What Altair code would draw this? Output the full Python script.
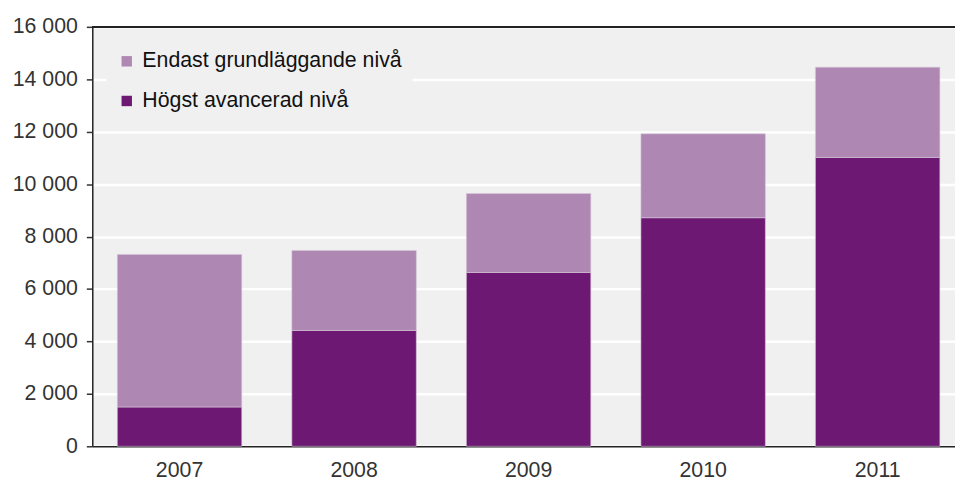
import altair as alt
import pandas as pd

years = ["2007", "2008", "2009", "2010", "2011"]
hogst = [1500, 4420, 6630, 8720, 11020]
totals = [7320, 7470, 9640, 11920, 14460]
endast = [t - h for t, h in zip(totals, hogst)]
series = ["Endast grundläggande nivå", "Högst avancerad nivå"]
colors = ["#ae87b3", "#6d1873"]
y_ticks = [0, 2000, 4000, 6000, 8000, 10000, 12000, 14000, 16000]

rows = []
for y, h, e in zip(years, hogst, endast):
    rows.append({"year": y, "series": series[1], "value": h, "ord": 0})
    rows.append({"year": y, "series": series[0], "value": e, "ord": 1})
df = pd.DataFrame(rows)

FONT = "Liberation Sans"
FS = 21.5

bars = alt.Chart(df).mark_bar(stroke="#d6c6d8", strokeWidth=0.6).encode(
    x=alt.X("year:N", title=None,
            scale=alt.Scale(range=[0, 880], paddingInner=0.287, paddingOuter=0.1435),
            axis=alt.Axis(labelAngle=0, ticks=False, domain=True, domainColor="#222222",
                          domainWidth=1.5, labelPadding=13,
                          labelFontSize=FS, labelColor="#333333", labelFont=FONT)),
    y=alt.Y("value:Q", stack="zero", title=None,
            scale=alt.Scale(domain=[0, 16000], nice=False),
            axis=alt.Axis(values=y_ticks, labelExpr="replace(format(datum.value, ','), ',', ' ')",
                          grid=True, gridColor="white", gridWidth=2.5,
                          domain=True, domainColor="#222222", domainWidth=1.5,
                          tickSize=6, tickColor="#333333", tickWidth=1.5,
                          labelPadding=9, labelFontSize=FS, labelColor="#333333", labelFont=FONT)),
    color=alt.Color("series:N", scale=alt.Scale(domain=series, range=colors),
                    legend=alt.Legend(title=None, orient="none", legendX=14, legendY=14,
                                      symbolType="square", symbolSize=110, symbolStrokeWidth=0,
                                      labelFontSize=FS, labelFont=FONT, labelColor="#111111",
                                      labelLimit=400,
                                      labelOffset=5, rowPadding=17, padding=10,
                                      fillColor="#f0f0f0")),
    order=alt.Order("ord:Q", sort="ascending"),
)

top_line = alt.Chart(df).mark_rule(color="#222222", strokeWidth=1.5).encode(
    y=alt.datum(16000), x=alt.value(0), x2=alt.value(880)
)

chart = alt.layer(bars, top_line).properties(
    width=870, height=423,
    autosize=alt.AutoSizeParams(type="none"),
    padding={"left": 85, "top": 17, "right": 0, "bottom": 33},
).configure_view(
    fill="#f0f0f0", strokeWidth=0
)

chart.save("out.html", embed_options={"renderer": "svg", "actions": False})
